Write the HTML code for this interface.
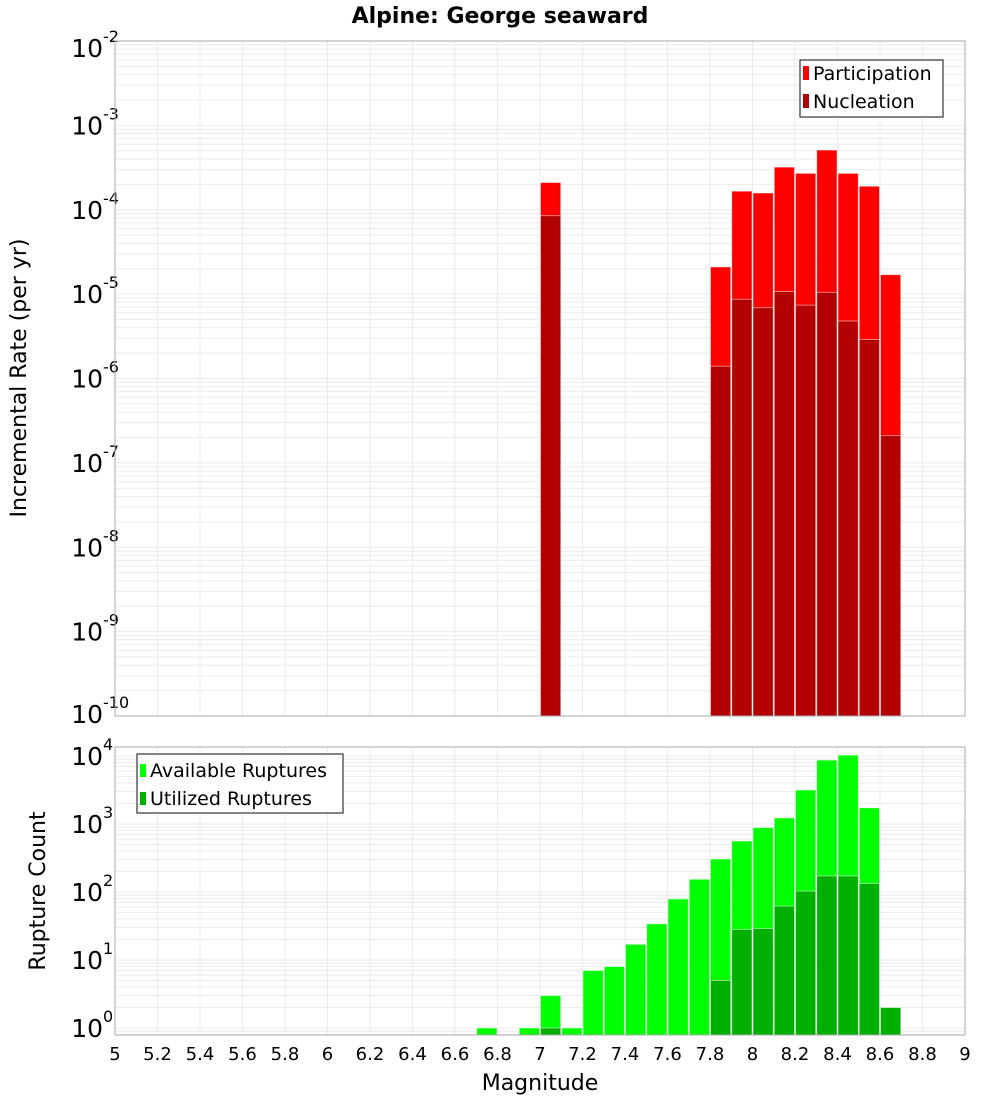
<!DOCTYPE html>
<html><head><meta charset="utf-8"><style>
html,body{margin:0;padding:0;background:#fff;}
svg{display:block;font-family:"Liberation Sans","DejaVu Sans",sans-serif;}
</style></head><body>
<svg id="chart" width="1000" height="1100" viewBox="0 0 1000 1100" xmlns="http://www.w3.org/2000/svg">
<text x="500" y="23" text-anchor="middle" font-size="22" font-weight="bold" font-family="DejaVu Sans, sans-serif">Alpine: George seaward</text>
<g id="top"></g>
<g id="bot"></g>
<text transform="translate(26,378) rotate(-90)" text-anchor="middle" font-size="22" font-family="DejaVu Sans, sans-serif">Incremental Rate (per yr)</text>
<text transform="translate(45,891) rotate(-90)" text-anchor="middle" font-size="22" font-family="DejaVu Sans, sans-serif">Rupture Count</text>
<text x="540" y="1090" text-anchor="middle" font-size="22" font-family="DejaVu Sans, sans-serif">Magnitude</text>
<g>
<rect x="800" y="60" width="143" height="57" fill="#fff" stroke="#333" stroke-width="1.2"/>
<rect x="803" y="66" width="6" height="14" fill="#ff0000"/>
<text x="813" y="80" font-size="19" font-family="DejaVu Sans, sans-serif">Participation</text>
<rect x="803" y="94" width="6" height="14" fill="#b30000"/>
<text x="813" y="108" font-size="19" font-family="DejaVu Sans, sans-serif">Nucleation</text>
</g>
<g>
<rect x="137" y="754" width="206" height="59" fill="#fff" stroke="#333" stroke-width="1.2"/>
<rect x="140" y="764" width="6" height="13" fill="#00ff00"/>
<text x="150" y="777" font-size="19" font-family="DejaVu Sans, sans-serif">Available Ruptures</text>
<rect x="140" y="792" width="6" height="13" fill="#00b000"/>
<text x="150" y="805" font-size="19" font-family="DejaVu Sans, sans-serif">Utilized Ruptures</text>
</g>
</svg>
<script>
const rateMags = [7.05, 7.85, 7.95, 8.05, 8.15, 8.25, 8.35, 8.45, 8.55, 8.65];
const participation = [2.1e-4, 2.1e-5, 1.66e-4, 1.58e-4, 3.2e-4, 2.7e-4, 5.1e-4, 2.7e-4, 1.9e-4, 1.7e-5];
const nucleation = [8.5e-5, 1.4e-6, 8.7e-6, 6.9e-6, 1.07e-5, 7.4e-6, 1.05e-5, 4.8e-6, 2.9e-6, 2.1e-7];
const countMags = [6.75, 6.95, 7.05, 7.15, 7.25, 7.35, 7.45, 7.55, 7.65, 7.75, 7.85, 7.95, 8.05, 8.15, 8.25, 8.35, 8.45, 8.55, 8.65];
const available = [1, 1, 3, 1, 7, 8, 17, 34, 79, 154, 306, 562, 886, 1230, 3160, 8700, 10300, 1730, 2];
const utilized = [0, 0, 1, 0, 0, 0, 0, 0, 0, 0, 5, 28, 29, 62, 103, 172, 172, 133, 2];
const xTicks = [5, 5.2, 5.4, 5.6, 5.8, 6, 6.2, 6.4, 6.6, 6.8, 7, 7.2, 7.4, 7.6, 7.8, 8, 8.2, 8.4, 8.6, 8.8, 9];
const rateExps = [-2, -3, -4, -5, -6, -7, -8, -9, -10];
const countExps = [0, 1, 2, 3, 4];

const NS = "http://www.w3.org/2000/svg";
const X0 = 115, X1 = 965, M0 = 5, M1 = 9, BW = 0.1;
function xs(m){ return X0 + (m - M0) / (M1 - M0) * (X1 - X0); }
function mk(tag, attrs, parent){ const e = document.createElementNS(NS, tag); for (const k in attrs) e.setAttribute(k, attrs[k]); parent.appendChild(e); return e; }
function logScale(lo, hi, top, bottom){ return v => bottom - (Math.log10(v) - lo) / (hi - lo) * (bottom - top); }

function panel(g, top, bottom, lo, hi, ys, exps){
  mk('rect', {x: X0, y: top, width: X1 - X0, height: bottom - top, fill: '#fff'}, g);
  // minor / major horizontal grid
  for (let d = Math.floor(lo); d <= Math.ceil(hi); d++) {
    for (let k = 1; k <= 9; k++) {
      const v = k * Math.pow(10, d);
      const lv = Math.log10(v);
      if (lv < lo || lv > hi) continue;
      const y = ys(v);
      const l = mk('line', {x1: X0, x2: X1, y1: y, y2: y, stroke: '#ebebeb', 'stroke-width': 1}, g);
      
      
    }
  }
  xTicks.forEach(t => {
    const x = xs(t);
    const l = mk('line', {x1: x, x2: x, y1: top, y2: bottom, stroke: '#ebebeb', 'stroke-width': 1}, g);
    
    
  });
  exps.forEach(e => {
    let y = ys(Math.pow(10, e));
    y = Math.max(top + 7, Math.min(bottom - 2, y));
    const t = mk('text', {x: 103, y: y + 9, 'text-anchor': 'end', 'font-size': 25, 'font-family': 'DejaVu Sans, sans-serif'}, g);
    
    
    t.textContent = '10';
    const s = mk('text', {x: 103, y: y - 6, 'text-anchor': 'start', 'font-size': 16, 'font-family': 'DejaVu Sans, sans-serif'}, g);
    
    
    s.textContent = String(e);
  });
}

function bars(g, mags, vals, ys, bottom, color, name){
  mags.forEach((m, i) => {
    if (!(vals[i] > 0)) return;
    const x = xs(m - BW / 2), w = xs(m + BW / 2) - x;
    const y = Math.max(ys(vals[i]), 0);
    const r = mk('rect', {x: x + 0.5, y: y, width: w - 1, height: Math.max(0, bottom - y), fill: color, stroke: 'rgba(255,255,255,0.6)', 'stroke-width': 0.8}, g);
    
    
  });
}

// top panel
const T0 = 41, T1 = 716;
const gt = document.getElementById('top');
const ysT = logScale(-10, -2, T0, T1);
panel(gt, T0, T1, -10, -2, ysT, rateExps);
bars(gt, rateMags, participation, ysT, T1, '#ff0000', 'participation');
bars(gt, rateMags, nucleation, ysT, T1, '#b30000', 'nucleation');
mk('rect', {x: X0, y: T0, width: X1 - X0, height: T1 - T0, fill: 'none', stroke: '#aaa', 'stroke-width': 1}, gt);

// bottom panel
const B0 = 747, B1 = 1035;
const gb = document.getElementById('bot');
const cLo = (1028 - B1) / 68, cHi = (1028 - B0) / 68;
const ysB = logScale(cLo, cHi, B0, B1);
panel(gb, B0, B1, cLo, cHi, ysB, countExps);
bars(gb, countMags, available, ysB, B1, '#00ff00', 'available');
bars(gb, countMags, utilized, ysB, B1, '#00b000', 'utilized');
mk('rect', {x: X0, y: B0, width: X1 - X0, height: B1 - B0, fill: 'none', stroke: '#aaa', 'stroke-width': 1}, gb);
xTicks.forEach(t => {
  const tx = mk('text', {x: xs(t), y: 1060, 'text-anchor': 'middle', 'font-size': 18, 'font-family': 'DejaVu Sans, sans-serif'}, gb);
  
  
  tx.textContent = String(t);
});
</script>
</body></html>
